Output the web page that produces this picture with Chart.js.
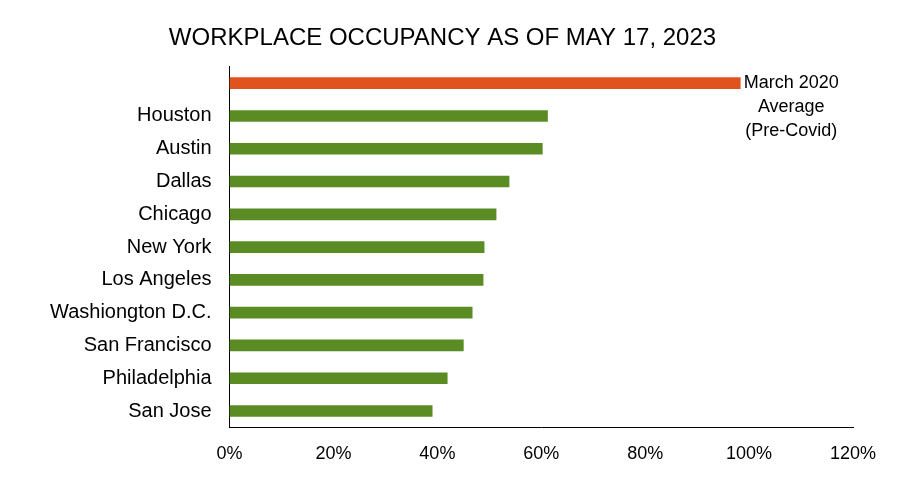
<!DOCTYPE html>
<html><head><meta charset="utf-8">
<script src="https://cdn.jsdelivr.net/npm/chart.js@4/dist/chart.umd.min.js"></script>
<style>html,body{margin:0;padding:0;background:#fff}#w{width:899px;height:483px}</style>
</head><body><div id="w"><canvas id="c"></canvas></div>
<script>
const categories = ["", "Houston", "Austin", "Dallas", "Chicago", "New York", "Los Angeles", "Washiongton D.C.", "San Francisco", "Philadelphia", "San Jose"];
const values = [98.3, 61.2, 60.2, 53.8, 51.3, 49.0, 48.8, 46.7, 45.0, 41.9, 39.0];
const barColors = ["#E0531F", "#5B8C23", "#5B8C23", "#5B8C23", "#5B8C23", "#5B8C23", "#5B8C23", "#5B8C23", "#5B8C23", "#5B8C23", "#5B8C23"];
const xTicks = [0, 20, 40, 60, 80, 100, 120];
const noteLines = ["March 2020", "Average", "(Pre-Covid)"];
const FONT = "'Liberation Sans', Arial, sans-serif";

const notePlugin = {
  id: 'note',
  afterDatasetsDraw(chart) {
    const ctx = chart.ctx;
    const meta = chart.getDatasetMeta(0).data[0];
    ctx.save();
    ctx.font = "18px " + FONT;
    ctx.fillStyle = "#000";
    ctx.textAlign = "center";
    ctx.textBaseline = "middle";
    const cx = meta.x + 51;
    noteLines.forEach((t, i) => ctx.fillText(t, cx, meta.y + i * 24));
    ctx.restore();
  }
};

new Chart(document.getElementById('c'), {
  type: 'bar',
  data: { labels: categories, datasets: [{ data: values, backgroundColor: barColors, barThickness: 11 }] },
  plugins: [notePlugin],
  options: {
    indexAxis: 'y', responsive: true, maintainAspectRatio: false, animation: false,
    layout: { padding: { left: 32, right: 46, top: 0, bottom: 2 } },
    plugins: {
      legend: { display: false }, tooltip: { enabled: false },
      title: { display: true, text: "WORKPLACE OCCUPANCY AS OF MAY 17, 2023", color: "#000",
        font: { family: FONT, size: 24, weight: 'normal' }, padding: { top: 24, bottom: 14 } }
    },
    scales: {
      x: { min: 0, max: 120, afterBuildTicks: s => { s.ticks = xTicks.map(v => ({ value: v })); },
        grid: { display: false, drawTicks: false }, border: { color: "#000", width: 1 },
        ticks: { color: "#000", font: { family: FONT, size: 18 }, padding: 16, callback: v => v + "%" } },
      y: { grid: { display: false, drawTicks: false }, border: { color: "#000", width: 1 },
        ticks: { color: "#000", font: { family: FONT, size: 20 }, padding: 18 } }
    }
  }
});
</script></body></html>
